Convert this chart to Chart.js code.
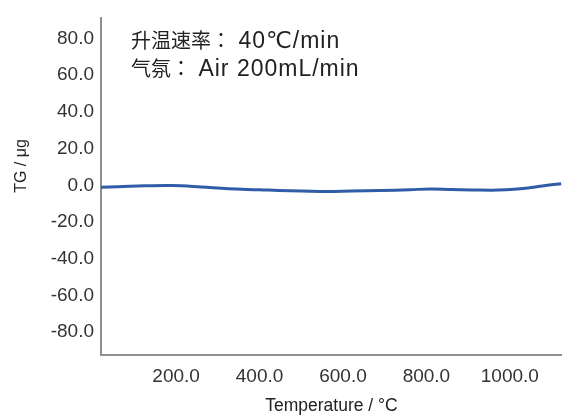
<!DOCTYPE html>
<html>
<head>
<meta charset="utf-8">
<script src="https://cdn.jsdelivr.net/npm/chart.js@4.4.0/dist/chart.umd.min.js"></script>
<style>
html,body{margin:0;padding:0;background:#fff;}
#wrap{width:562px;height:415px;position:relative;}
</style>
</head>
<body>
<div id="wrap"><canvas id="c" width="562" height="415"></canvas></div>
<script>
const temperatures = [20, 60, 125, 190, 260, 325, 400, 445, 500, 565, 620, 690, 760, 810, 860, 907, 971, 1010, 1051, 1090, 1123];
const tgValues = [-1.0, -0.8, -0.3, -0.1, -0.9, -1.9, -2.4, -2.8, -3.1, -3.4, -3.1, -2.8, -2.4, -2.0, -2.3, -2.5, -2.6, -2.2, -1.2, 0.0, 0.9];
const xTicks = [200, 400, 600, 800, 1000];
const yTicks = [-80, -60, -40, -20, 0, 20, 40, 60, 80];
const noteLines = ["升温速率： 40℃/min", "气氛： Air 200mL/min"];
const xTitle = "Temperature / °C";
const yTitle = "TG / μg";

const FONT = "'Liberation Sans', Arial, sans-serif";
const CJK_FONT = "20px 'Noto Sans CJK JP', 'Noto Sans CJK SC', sans-serif";
const LATIN_FONT = "23px 'Liberation Sans', 'DejaVu Sans', sans-serif";
const CJK_RE = /[\u3000-\u303f\u4e00-\u9fff\uff00-\uffef]/;

function drawMixed(ctx, text, x, y) {
  const runs = text.match(/[\u3000-\u303f\u4e00-\u9fff\uff00-\uffef]+|[^\u3000-\u303f\u4e00-\u9fff\uff00-\uffef]+/g) || [];
  let cx = x;
  runs.forEach(r => {
    const isCJK = CJK_RE.test(r);
    ctx.font = isCJK ? CJK_FONT : LATIN_FONT;
    ctx.letterSpacing = isCJK ? '0px' : '1px';
    ctx.fillText(r, cx, y);
    cx += ctx.measureText(r).width;
  });
  ctx.letterSpacing = '0px';
}

const notePlugin = {
  id: 'note',
  afterDraw(chart) {
    const ctx = chart.ctx;
    const a = chart.chartArea;
    ctx.save();
    ctx.fillStyle = '#222';
    ctx.textBaseline = 'alphabetic';
    ctx.textAlign = 'left';
    drawMixed(ctx, noteLines[0], a.left + 30, a.top + 30);
    drawMixed(ctx, noteLines[1], a.left + 30, a.top + 58);
    // y-axis title
    ctx.translate(22, 166);
    ctx.rotate(-Math.PI / 2);
    ctx.textAlign = 'center';
    ctx.textBaseline = 'middle';
    ctx.font = "16px " + FONT;
    ctx.fillText(yTitle, 0, 0);
    ctx.restore();
  }
};

new Chart(document.getElementById('c'), {
  type: 'line',
  data: {
    datasets: [{
      data: temperatures.map((t, i) => ({x: t, y: tgValues[i]})),
      borderColor: '#2f5da8',
      borderWidth: 3,
      pointRadius: 0,
      tension: 0.4,
      fill: false
    }]
  },
  options: {
    responsive: false,
    animation: false,
    devicePixelRatio: 1,
    layout: {padding: {top: 10, right: 0, bottom: 0, left: 0}},
    plugins: {legend: {display: false}, tooltip: {enabled: false}},
    scales: {
      x: {
        type: 'linear',
        min: 20,
        max: 1125,
        afterBuildTicks(scale) { scale.ticks = xTicks.map(v => ({value: v})); },
        afterFit(scale) { scale.height = 60; },
        grid: {display: false, drawTicks: false},
        border: {display: true, color: '#8f8f8f', width: 2},
        ticks: {
          padding: 10,
          color: '#333',
          font: {family: FONT, size: 19},
          callback: v => Number(v).toFixed(1)
        },
        title: {
          display: true,
          text: xTitle,
          color: '#222',
          font: {family: FONT, size: 17.5, lineHeight: 1.0},
          padding: {top: 4, bottom: 0}
        }
      },
      y: {
        type: 'linear',
        min: -92.5,
        max: 91,
        afterBuildTicks(scale) { scale.ticks = yTicks.map(v => ({value: v})); },
        afterFit(scale) { scale.width = 101; },
        grid: {display: false, drawTicks: false},
        border: {display: true, color: '#8f8f8f', width: 2},
        ticks: {
          padding: 7,
          color: '#333',
          font: {family: FONT, size: 19},
          callback: v => Number(v).toFixed(1)
        },
        title: {display: false}
      }
    }
  },
  plugins: [notePlugin]
});
</script>
</body>
</html>
